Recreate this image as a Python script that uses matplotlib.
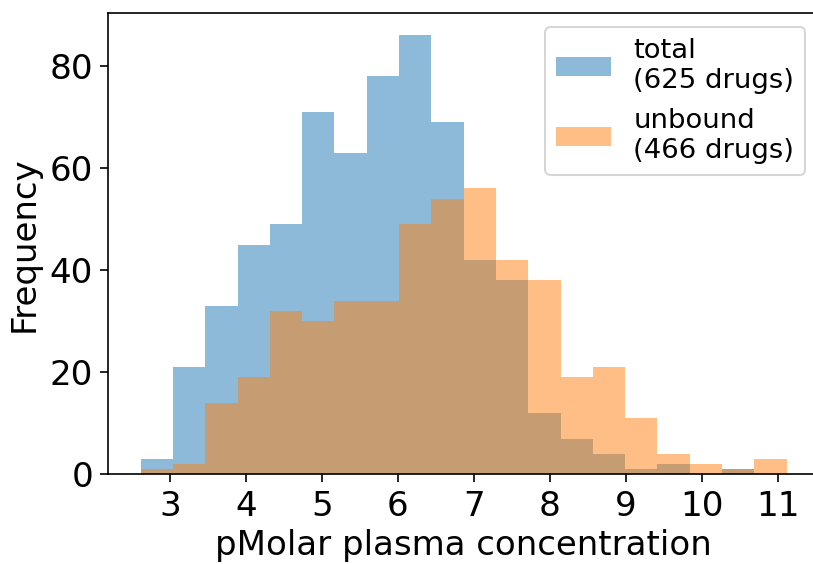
import numpy as np
import matplotlib
matplotlib.use('Agg')
import matplotlib.pyplot as plt

# shared bin range (20 bins)
bin_lo = 2.614
bin_hi = 11.118
n_bins = 20

total_counts = [3, 21, 33, 45, 49, 71, 63, 78, 86, 69,
                42, 38, 12, 7, 4, 1, 2, 0, 1, 0]
unbound_counts = [1, 2, 14, 19, 32, 30, 34, 34, 49, 54,
                  56, 42, 38, 19, 21, 11, 4, 2, 1, 3]
labels = ['total\n(625 drugs)', 'unbound\n(466 drugs)']

edges = np.linspace(bin_lo, bin_hi, n_bins + 1)
centers = (edges[:-1] + edges[1:]) / 2

fig = plt.figure(figsize=(813 / 150, 564 / 150), dpi=150)
ax = fig.add_axes([0.1332, 0.159, 0.8742, 0.8174])

ax.hist(centers, bins=edges, weights=total_counts, alpha=0.5, label=labels[0])
ax.hist(centers, bins=edges, weights=unbound_counts, alpha=0.5, label=labels[1])

ax.set_xticks([3, 4, 5, 6, 7, 8, 9, 10, 11])
ax.set_yticks([0, 20, 40, 60, 80])
ax.tick_params(labelsize=16.4, length=3.8)
ax.set_xlabel('pMolar plasma concentration', fontsize=16.3, labelpad=3)
ax.set_ylabel('Frequency', fontsize=16.3)
ax.legend(loc='upper right', fontsize=13.2)

fig.savefig('out.png', dpi=150)
